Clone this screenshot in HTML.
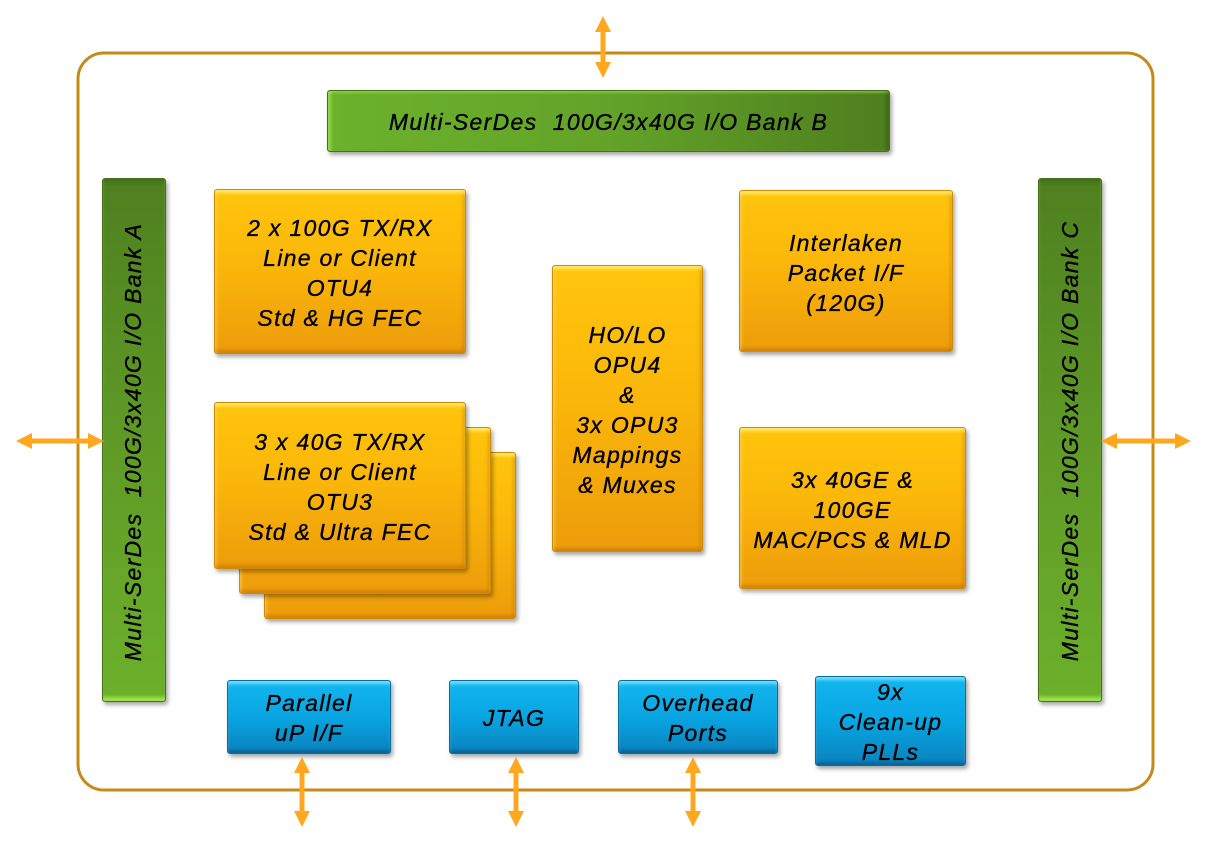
<!DOCTYPE html>
<html>
<head>
<meta charset="utf-8">
<style>
  html,body{margin:0;padding:0;background:#fff;}
  body{width:1207px;height:844px;position:relative;overflow:hidden;
       font-family:"Liberation Sans",sans-serif;}
  .b{position:absolute;box-sizing:border-box;border-radius:3px;
     font-style:italic;color:#000;text-align:center;}
  .or{background:linear-gradient(to bottom,#ffc50c 0%,#fbb70a 45%,#ec9c0a 100%);
      border:1px solid #d08a06;
      box-shadow:inset 0 4px 3px -1px rgba(255,240,120,0.85),
                 inset 0 -4px 3px -1px rgba(170,90,0,0.35),
                 inset 4px 0 3px -2px rgba(255,220,90,0.5),
                 inset -4px 0 3px -2px rgba(170,90,0,0.3),
                 2px 3px 4px rgba(0,0,0,0.35);}
  .bl{background:linear-gradient(to bottom,#13b6f0 0%,#08a5e2 50%,#0a82be 100%);
      border:1px solid #0b6d9e;
      box-shadow:inset 0 4px 3px -1px rgba(140,230,255,0.8),
                 inset 0 -4px 3px -1px rgba(0,50,90,0.35),
                 2px 3px 4px rgba(0,0,0,0.35);}
  .gv{background:linear-gradient(to bottom,#4e801f 0%,#5f9a26 50%,#6cb02b 100%);
      border:1px solid #476f1c;
      box-shadow:inset 0 -5px 3px -1px rgba(170,240,90,0.8),
                 inset 0 4px 3px -1px rgba(40,70,10,0.3),
                 2px 3px 4px rgba(0,0,0,0.35);}
  .gh{background:linear-gradient(to right,#6cb22c 0%,#63a329 50%,#4e7e1e 100%);
      border:1px solid #476f1c;
      box-shadow:inset 4px 0 3px -1px rgba(170,240,90,0.6),
                 inset -4px 0 3px -1px rgba(40,70,10,0.35),
                 inset 0 3px 2px -1px rgba(170,240,90,0.5),
                 2px 3px 4px rgba(0,0,0,0.35);}
  .t{position:absolute;left:0;right:0;font-size:23px;line-height:30px;letter-spacing:1.3px;white-space:nowrap;
     -webkit-text-stroke:0.35px #000;}
  .vt{position:absolute;font-size:23px;letter-spacing:1.3px;white-space:nowrap;font-style:italic;
      width:480px;text-align:center;line-height:26px;transform:rotate(-90deg);-webkit-text-stroke:0.35px #000;}
</style>
</head>
<body>
<svg width="1207" height="844" style="position:absolute;left:0;top:0">
  <rect x="78" y="53" width="1075" height="737" rx="26" ry="26" fill="none" stroke="#c58a1a" stroke-width="3"/>
</svg>

<!-- Bank B -->
<div class="b gh" style="left:327px;top:90px;width:563px;height:62px;">
  <div class="t" style="top:16px;font-size:23px;letter-spacing:1.3px;">Multi-SerDes&nbsp; 100G/3x40G I/O Bank B</div>
</div>

<!-- Bank A -->
<div class="b gv" style="left:102px;top:178px;width:64px;height:524px;"></div>
<div class="vt" style="left:-107px;top:429px;">Multi-SerDes&nbsp; 100G/3x40G I/O Bank A</div>

<!-- Bank C -->
<div class="b gv" style="left:1038px;top:178px;width:64px;height:524px;"></div>
<div class="vt" style="left:830px;top:428px;">Multi-SerDes&nbsp; 100G/3x40G I/O Bank C</div>

<!-- 2 x 100G -->
<div class="b or" style="left:214px;top:189px;width:252px;height:165px;">
  <div class="t" style="top:23px;">2 x 100G TX/RX<br>Line or Client<br>OTU4<br>Std &amp; HG FEC</div>
</div>

<!-- stacked 3 x 40G -->
<div class="b or" style="left:264px;top:452px;width:252px;height:167px;"></div>
<div class="b or" style="left:239px;top:427px;width:252px;height:167px;"></div>
<div class="b or" style="left:214px;top:402px;width:252px;height:167px;">
  <div class="t" style="top:24px;">3 x 40G TX/RX<br>Line or Client<br>OTU3<br>Std &amp; Ultra FEC</div>
</div>

<!-- center -->
<div class="b or" style="left:552px;top:265px;width:151px;height:287px;">
  <div class="t" style="top:54px;">HO/LO<br>OPU4<br>&amp;<br>3x OPU3<br>Mappings<br>&amp; Muxes</div>
</div>

<!-- Interlaken -->
<div class="b or" style="left:739px;top:190px;width:214px;height:162px;">
  <div class="t" style="top:37px;">Interlaken<br>Packet I/F<br>(120G)</div>
</div>

<!-- 3x 40GE -->
<div class="b or" style="left:739px;top:427px;width:227px;height:162px;">
  <div class="t" style="top:37px;">3x 40GE &amp;<br>100GE<br>MAC/PCS &amp; MLD</div>
</div>

<!-- blue -->
<div class="b bl" style="left:227px;top:680px;width:164px;height:74px;">
  <div class="t" style="top:7px;">Parallel<br>uP I/F</div>
</div>
<div class="b bl" style="left:449px;top:680px;width:130px;height:74px;">
  <div class="t" style="top:22px;">JTAG</div>
</div>
<div class="b bl" style="left:618px;top:680px;width:160px;height:74px;">
  <div class="t" style="top:7px;">Overhead<br>Ports</div>
</div>
<div class="b bl" style="left:815px;top:676px;width:151px;height:90px;">
  <div class="t" style="top:0px;">9x<br>Clean-up<br>PLLs</div>
</div>

<!-- arrows -->
<svg width="1207" height="844" style="position:absolute;left:0;top:0">
  <g fill="#ffa81f">
    <!-- top -->
    <rect x="600.5" y="28" width="5" height="38"/>
    <polygon points="603,16 595,32 611,32"/>
    <polygon points="603,78 595,62 611,62"/>
    <!-- left -->
    <rect x="28" y="438.5" width="64" height="5"/>
    <polygon points="16,441 32,433 32,449"/>
    <polygon points="104,441 88,433 88,449"/>
    <!-- right -->
    <rect x="1112" y="438.5" width="66" height="5"/>
    <polygon points="1101,441 1117,433 1117,449"/>
    <polygon points="1191,441 1175,433 1175,449"/>
    <!-- bottom -->
    <rect x="299.5" y="768" width="5" height="48"/>
    <polygon points="302,757 294,773 310,773"/>
    <polygon points="302,827 294,811 310,811"/>
    <rect x="513.5" y="768" width="5" height="48"/>
    <polygon points="516,757 508,773 524,773"/>
    <polygon points="516,827 508,811 524,811"/>
    <rect x="690.5" y="768" width="5" height="48"/>
    <polygon points="693,757 685,773 701,773"/>
    <polygon points="693,827 685,811 701,811"/>
  </g>
</svg>
</body>
</html>
